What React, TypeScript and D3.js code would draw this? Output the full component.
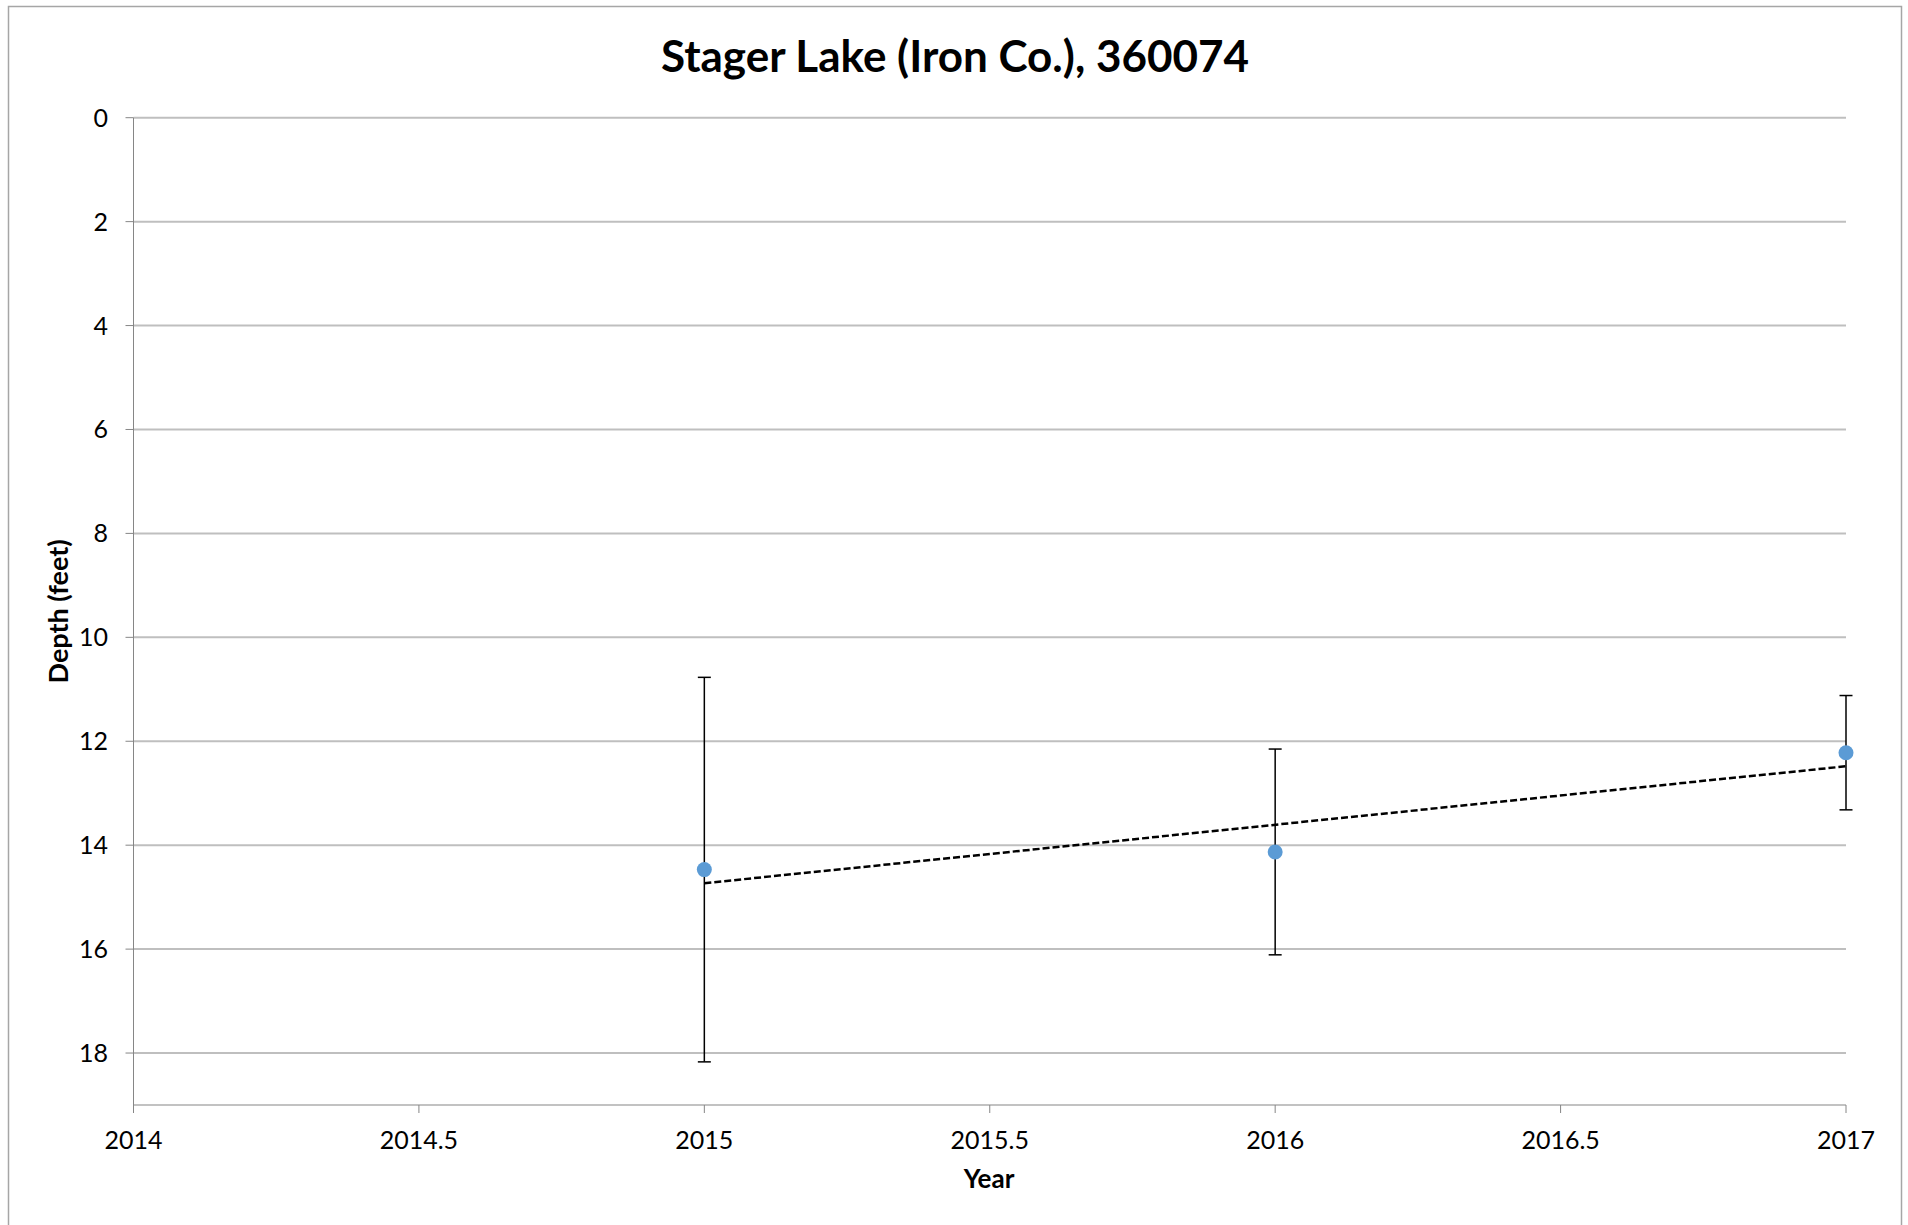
import * as d3 from "d3";

const W = 1908;
const H = 1225;
const margin = { top: 117.7, right: 62, bottom: 120, left: 133.5 };

// data
const years = [2015, 2016, 2017];
const depths = [14.47, 14.13, 12.22];
const errors = [3.7, 1.98, 1.1];

const xTicks = [2014, 2014.5, 2015, 2015.5, 2016, 2016.5, 2017];
const yTicks = [0, 2, 4, 6, 8, 10, 12, 14, 16, 18];

const title = "Stager Lake (Iron Co.), 360074";
const xTitle = "Year";
const yTitle = "Depth (feet)";

const font = "Lato, 'Open Sans', sans-serif";

const App = () => {
  const x = d3.scaleLinear().domain([2014, 2017]).range([margin.left, W - margin.right]);
  const y = d3.scaleLinear().domain([0, 19]).range([margin.top, H - margin.bottom]);

  // linear trendline (least squares)
  const mx = d3.mean(years) as number;
  const my = d3.mean(depths) as number;
  const slope =
    d3.sum(years, (v, i) => (v - mx) * (depths[i] - my)) / d3.sum(years, (v) => (v - mx) ** 2);
  const trend = [years[0], years[years.length - 1]].map((v) => [v, my + slope * (v - mx)] as [number, number]);
  const trendLine = d3
    .line<[number, number]>()
    .x((d) => x(d[0]))
    .y((d) => y(d[1]));

  const [x0, x1] = x.range();
  const [y0, y1] = y.range();

  return (
    <svg width={W} height={H} style={{ position: "absolute", left: 0, top: 0 }} fontFamily={font}>
      <rect x={0} y={0} width={W} height={H} fill="#fff" />
      <rect x={8.5} y={6.5} width={1893} height={1240} fill="none" stroke="#a6a6a6" strokeWidth={1.5} />

      <text x={955} y={72} textAnchor="middle" fontSize={44} fontWeight="bold">
        {title}
      </text>

      {/* gridlines */}
      {yTicks.map((t) => (
        <line key={t} x1={x0} x2={x1} y1={y(t)} y2={y(t)} stroke="#bfbfbf" strokeWidth={2} />
      ))}

      {/* axes */}
      <line x1={x0} x2={x0} y1={y0} y2={y1} stroke="#868686" strokeWidth={1} />
      <line x1={x0} x2={x1} y1={y1} y2={y1} stroke="#868686" strokeWidth={1.2} />
      {yTicks.map((t) => (
        <g key={t}>
          <line x1={x0 - 8} x2={x0} y1={y(t)} y2={y(t)} stroke="#868686" />
          <text x={108} y={y(t) + 9} textAnchor="end" fontSize={25}>
            {t}
          </text>
        </g>
      ))}
      {xTicks.map((t) => (
        <g key={t}>
          <line x1={x(t)} x2={x(t)} y1={y1} y2={y1 + 8} stroke="#868686" />
          <text x={x(t)} y={1149} textAnchor="middle" fontSize={25}>
            {t}
          </text>
        </g>
      ))}

      <text x={989} y={1188} textAnchor="middle" fontSize={26} fontWeight="bold">
        {xTitle}
      </text>
      <text
        transform={`translate(68, ${(y0 + y1) / 2}) rotate(-90)`}
        textAnchor="middle"
        fontSize={27}
        fontWeight="bold"
      >
        {yTitle}
      </text>

      {/* error bars */}
      {years.map((v, i) => (
        <g key={v} stroke="#000" strokeWidth={1.5}>
          <line x1={x(v)} x2={x(v)} y1={y(depths[i] - errors[i])} y2={y(depths[i] + errors[i])} />
          <line x1={x(v) - 6.5} x2={x(v) + 6.5} y1={y(depths[i] - errors[i])} y2={y(depths[i] - errors[i])} />
          <line x1={x(v) - 6.5} x2={x(v) + 6.5} y1={y(depths[i] + errors[i])} y2={y(depths[i] + errors[i])} />
        </g>
      ))}

      {/* trendline */}
      <path d={trendLine(trend) as string} fill="none" stroke="#000" strokeWidth={2.5} strokeDasharray="7,3" />

      {/* points */}
      {years.map((v, i) => (
        <circle key={v} cx={x(v)} cy={y(depths[i])} r={7.5} fill="#5b9bd5" />
      ))}
    </svg>
  );
};

export default App;
